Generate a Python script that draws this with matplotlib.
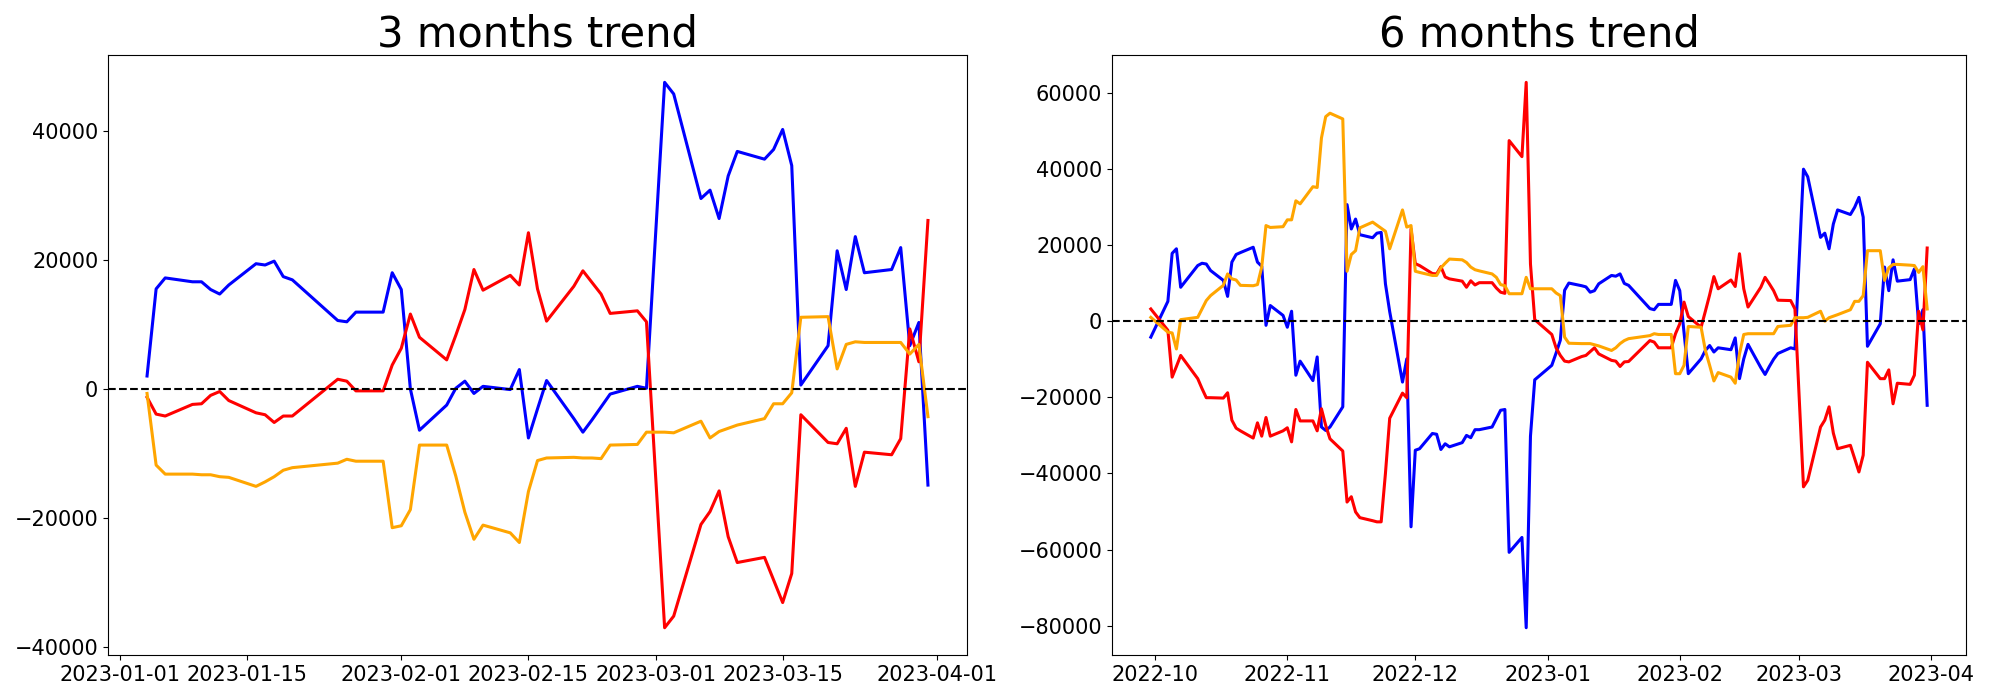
import numpy as np
import pandas as pd
import matplotlib
matplotlib.use("Agg")
import matplotlib.pyplot as plt

# KRX holidays inside the plotted windows
holidays = ["2022-10-03", "2022-10-10", "2022-12-30",
            "2023-01-23", "2023-01-24", "2023-03-01"]

dates_3m = pd.bdate_range("2023-01-04", "2023-03-31", freq="C", holidays=holidays)
dates_6m = pd.bdate_range("2022-09-30", "2023-03-31", freq="C", holidays=holidays)

# ---- 3 months (Jan / Feb / Mar) ----
blue_3m = [2000, 15500, 17200, 16600, 16600, 15400, 14700, 16100, 19400, 19200,
           19800, 17400, 16900, 10600, 10400, 11900, 11900, 18000,
           15400, 0, -6400, -2500, 100, 1200, -700, 400, -100, 3000,
           -7600, -3100, 1300, -4600, -6700, -4800, -2800, -800, 400, 100,
           47500, 45700, 29500, 30800, 26400, 33000, 36800, 35600, 37100, 40200,
           34600, 600, 6700, 21400, 15400, 23600, 18000, 18500, 21900, 6700,
           10300, -14900]
red_3m = [-1300, -3900, -4200, -2400, -2300, -1000, -400, -1800, -3700, -4000,
          -5200, -4200, -4200, 1500, 1200, -300, -300, 3700,
          6300, 11600, 8000, 4500, 8300, 12300, 18500, 15300, 17600, 16100,
          24200, 15500, 10500, 15900, 18300, 16500, 14700, 11700, 12100, 10400,
          -37000, -35200, -21000, -19000, -15800, -22900, -26900, -26100, -29600, -33100,
          -28600, -4000, -8300, -8500, -6100, -15100, -9800, -10200, -7700, 9300,
          4200, 26100]
orange_3m = [-700, -11800, -13200, -13200, -13300, -13300, -13600, -13700, -15100, -14400,
             -13600, -12600, -12200, -11500, -10900, -11200, -11200, -21500,
             -21200, -18700, -8700, -8700, -13500, -19100, -23300, -21100, -22300, -23800,
             -15900, -11100, -10700, -10600, -10700, -10700, -10800, -8700, -8600, -6700,
             -6700, -6800, -5000, -7600, -6600, -6100, -5600, -4600, -2300, -2300,
             -600, 11100, 11200, 3100, 6900, 7300, 7200, 7200, 7200, 5400,
             6900, -4300]

# ---- 6 months (Sep 30 / Oct / Nov / Dec / Jan / Feb / Mar) ----
blue_6m = ([-4200]
           + [5200, 17800, 19000, 8900, 14600, 15200, 15000, 13300, 10700, 6500,
              15500, 17500, 18000, 19400, 15500, 14400, -1100, 4100, 1500]
           + [-1600, 2600, -14200, -10500, -15600, -9400, -27800, -28700, -27800, -22500,
              30600, 24200, 26800, 22700, 21900, 23100, 23300, 9800, 2500, -16000,
              -9900, -54000]
           + [-33900, -33500, -29500, -29700, -33700, -32200, -33000, -31900, -30000, -30600,
              -28500, -28500, -27800, -25600, -23400, -23200, -60700, -56800, -80500, -30200,
              -15400]
           + [-11600, -8400, -5000, 8100, 10000, 9300, 9000, 7600, 8000, 9800,
              12000, 11800, 12400, 9900, 9400, 3300, 3000, 4400, 4400, 10700]
           + [8000, -3000, -13800, -9900, -7700, -6400, -8100, -7000, -7500, -4400,
              -15100, -9900, -6100, -12200, -14000, -11900, -10000, -8500, -7000, -7300]
           + [39900, 37900, 22000, 23100, 19000, 25500, 29200, 28000, 29900, 32500,
              27300, -6600, -700, 14200, 8000, 16100, 10500, 10900, 13700, -700,
              3000, -22100])
red_6m = ([3200]
          + [-2400, -14700, -11900, -9000, -15100, -17700, -20100, -20100, -20200, -18800,
             -26000, -28100, -28800, -30700, -26700, -30200, -25300, -30200, -28800]
          + [-28000, -31700, -23200, -26200, -26200, -28800, -23000, -27400, -30900, -34100,
             -47500, -46100, -50100, -51600, -52400, -52700, -52700, -40000, -25500, -18900,
             -20100, 24200]
          + [15100, 14600, 12500, 12400, 14300, 11600, 11100, 10500, 8900, 10600,
             9500, 10100, 10100, 8700, 7600, 7300, 47400, 43200, 62700, 15000,
             400]
          + [-3500, -7000, -9000, -10500, -10700, -9300, -9000, -8000, -7000, -8600,
             -10300, -10500, -11900, -10700, -10600, -5100, -5500, -7000, -7000, -3300]
          + [-700, 5000, 1200, -1600, 2600, 6900, 11700, 8500, 10800, 9100,
             17700, 8500, 3700, 8900, 11500, 9800, 8000, 5500, 5400, 3200]
          + [-43500, -41800, -27800, -26000, -22500, -29400, -33500, -32600, -36100, -39600,
             -35200, -10800, -15100, -15100, -12800, -21700, -16300, -16600, -14200, 2600,
             -2300, 19200])
orange_6m = ([1000]
             + [-2900, -3100, -7300, 400, 1000, 3200, 5400, 6700, 9400, 12400,
                11100, 10800, 9400, 9300, 9600, 14200, 25100, 24600, 24800]
             + [26600, 26600, 31600, 30800, 35300, 35100, 48100, 53700, 54600, 53100,
                13100, 17500, 18500, 24500, 26000, 25200, 24400, 23600, 19000, 29200,
                24700, 25100]
             + [13100, 12800, 12000, 12000, 14000, 15200, 16300, 16100, 15400, 14200,
                13500, 13200, 12400, 11500, 9600, 9300, 7200, 7200, 11500, 8500,
                8500]
             + [8500, 7400, 6700, -4200, -5800, -5900, -5900, -5900, -6200, -6500,
                -7700, -7000, -5900, -5100, -4600, -3800, -3300, -3500, -3500, -13800]
             + [-13800, -11600, -1400, -1600, -7700, -11600, -15700, -13500, -14700, -16300,
                -8600, -3500, -3300, -3300, -3300, -3300, -3300, -1400, -1100, 900]
             + [900, 1000, 2600, 0, 900, 1300, 1700, 3000, 5200, 5200,
                6700, 18500, 18500, 10700, 14000, 14900, 14900, 14700, 14600, 12800,
                14300, 3200])

fig = plt.figure(figsize=(20, 7), dpi=100)
ax1 = fig.add_axes([0.054, 0.0643, 0.4295, 0.857])
ax2 = fig.add_axes([0.556, 0.0643, 0.427, 0.857])

for ax, d, b, r, o, title in [(ax1, dates_3m, blue_3m, red_3m, orange_3m, "3 months trend"),
                              (ax2, dates_6m, blue_6m, red_6m, orange_6m, "6 months trend")]:
    ax.plot(d, b, color="blue", linewidth=2.2)
    ax.plot(d, r, color="red", linewidth=2.2)
    ax.plot(d, o, color="orange", linewidth=2.2)
    ax.axhline(0, color="black", linestyle="--", linewidth=1.5)
    ax.set_title(title, fontsize=30)
    ax.tick_params(labelsize=15)

fig.savefig("out.png", dpi=100)
